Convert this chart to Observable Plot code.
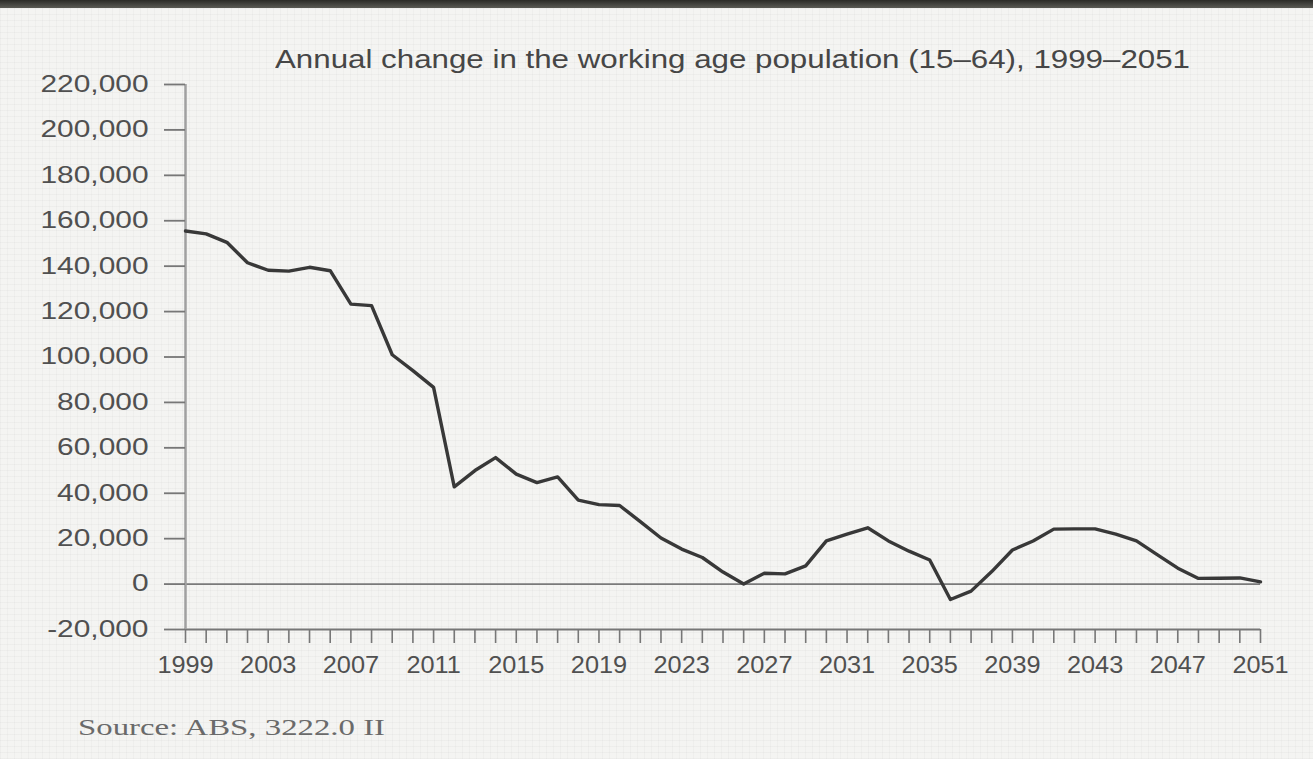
<!DOCTYPE html>
<html><head><meta charset="utf-8">
<script src="https://cdn.jsdelivr.net/npm/d3@7"></script>
<script src="https://cdn.jsdelivr.net/npm/@observablehq/plot@0.6"></script>
<style>
html,body{margin:0;padding:0;}
body{width:1313px;height:759px;overflow:hidden;position:relative;background-color:#f4f4f2;
 background-image: repeating-linear-gradient(0deg, rgba(0,0,0,0.028) 0 1px, transparent 1px 6px), repeating-linear-gradient(90deg, rgba(0,0,0,0.022) 0 1px, transparent 1px 7px);
 font-family:"Liberation Sans", Arial, sans-serif;}
#topbar{position:absolute;left:0;top:0;width:1313px;height:8px;background:linear-gradient(#2b2b27,#5a5a54);}
#chart{position:absolute;left:0;top:0;}
#title{position:absolute;top:45px;left:275px;white-space:nowrap;font-size:25px;color:#464646;transform-origin:0 0;}
#source{position:absolute;top:714px;left:78px;white-space:nowrap;font-family:"Liberation Serif","Times New Roman",serif;font-size:24px;color:#6a6a6a;transform-origin:0 0;}
</style></head><body>
<div id="chart"></div>
<div id="topbar"></div>
<div id="title">Annual change in the working age population (15–64), 1999–2051</div>
<div id="source">Source: ABS, 3222.0 II</div>
<script>
const years = [1999,2000,2001,2002,2003,2004,2005,2006,2007,2008,2009,2010,2011,2012,2013,2014,2015,2016,2017,2018,2019,2020,2021,2022,2023,2024,2025,2026,2027,2028,2029,2030,2031,2032,2033,2034,2035,2036,2037,2038,2039,2040,2041,2042,2043,2044,2045,2046,2047,2048,2049,2050,2051];
const values = [155500,154200,150500,141500,138200,137800,139500,138000,123300,122600,101000,94000,86600,42800,50000,55700,48400,44700,47200,37000,35000,34600,27500,20300,15400,11700,5300,0,4800,4500,8000,19000,22000,24800,19000,14500,10600,-6800,-3100,5500,15000,19000,24200,24300,24300,22000,19000,13000,7000,2500,2600,2700,1000];
const yTicks = [-20000,0,20000,40000,60000,80000,100000,120000,140000,160000,180000,200000,220000];
const xLabelYears = [1999,2003,2007,2011,2015,2019,2023,2027,2031,2035,2039,2043,2047,2051];
const data = years.map((year, i) => ({year, value: values[i]}));

const plot = Plot.plot({
  width: 1313, height: 700,
  marginLeft: 185, marginRight: 53, marginTop: 84, marginBottom: 71,
  style: {background: "transparent", fontFamily: "Liberation Sans, Arial, sans-serif", fontSize: "23px", color: "#505050", overflow: "visible"},
  x: {domain: [1999, 2051], label: null},
  y: {domain: [-20000, 220000], label: null},
  marks: [
    Plot.ruleY([0], {stroke: "#7a7a7a", strokeWidth: 1.6}),
    Plot.ruleY([-20000], {stroke: "#777", strokeWidth: 1.8}),
    Plot.ruleX([1999], {stroke: "#a0a0a0", strokeWidth: 2.5}),
    Plot.axisY({ticks: yTicks, tickSize: 21, tickPadding: 16, tickFormat: d => d.toLocaleString("en-US"), stroke: "#777", strokeWidth: 1.8, fill: "#505050", fontSize: 23, label: null}),
    Plot.axisX({ticks: years, tickSize: 14, tickFormat: () => "", stroke: "#777", strokeWidth: 1.6, label: null}),
    Plot.axisX({ticks: xLabelYears, tickSize: 0, tickPadding: 27, tickFormat: d => String(d), fill: "#505050", fontSize: 23, label: null}),
    Plot.line(data, {x: "year", y: "value", stroke: "#383838", strokeWidth: 3.4, strokeLinejoin: "round", strokeLinecap: "round"})
  ]
});
document.getElementById("chart").appendChild(plot);

function stretch(textEl, s, anchor) {
  const r = textEl.getBoundingClientRect();
  const parent = textEl.parentNode;
  const m = parent.getScreenCTM().inverse();
  const pt = plot.createSVGPoint();
  pt.x = anchor === "end" ? r.right : (r.left + r.right) / 2;
  pt.y = r.top;
  const c = pt.matrixTransform(m).x;
  const old = textEl.getAttribute("transform") || "";
  textEl.setAttribute("transform", `translate(${c},0) scale(${s},1) translate(${-c},0) ${old}`);
}
plot.querySelectorAll('g[aria-label="y-axis tick label"] text').forEach(t => stretch(t, 1.3, "end"));
plot.querySelectorAll('g[aria-label="x-axis tick label"] text').forEach(t => stretch(t, 1.1, "middle"));

function fitWidth(el, target) {
  const w = el.getBoundingClientRect().width;
  el.style.transform = `scaleX(${target / w})`;
}
fitWidth(document.getElementById("title"), 915);
fitWidth(document.getElementById("source"), 307);
</script>
</body></html>
